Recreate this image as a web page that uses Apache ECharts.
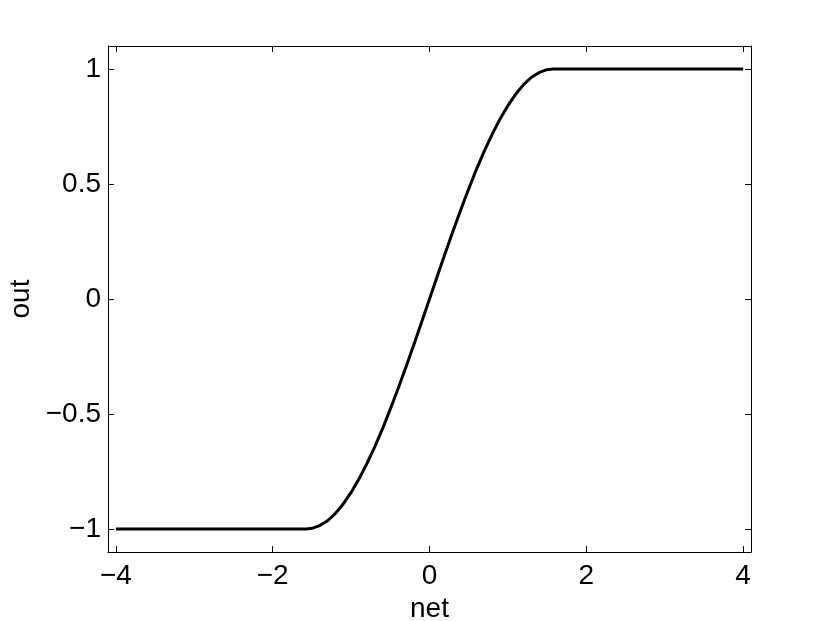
<!DOCTYPE html>
<html>
<head>
<meta charset="utf-8">
<script src="https://cdn.jsdelivr.net/npm/echarts@6/dist/echarts.min.js"></script>
<style>
  html, body { margin: 0; padding: 0; background: #fff; }
  #chart { width: 830px; height: 621px; }
</style>
</head>
<body>
<div id="chart"></div>
<script>
// values
var netValues = [-4.0, -3.0, -2.0, -1.57, -1.5, -1.4, -1.3, -1.2, -1.1, -1.0, -0.9, -0.8, -0.7, -0.6, -0.5, -0.4, -0.3, -0.2, -0.1,
  0.0, 0.1, 0.2, 0.3, 0.4, 0.5, 0.6, 0.7, 0.8, 0.9, 1.0, 1.1, 1.2, 1.3, 1.4, 1.5, 1.57, 2.0, 3.0, 4.0];
var outValues = [-1.0, -1.0, -1.0, -1.0, -0.997, -0.985, -0.964, -0.932, -0.891, -0.841, -0.783, -0.717, -0.644, -0.565, -0.479, -0.389, -0.296, -0.199, -0.1,
  0.0, 0.1, 0.199, 0.296, 0.389, 0.479, 0.565, 0.644, 0.717, 0.783, 0.841, 0.891, 0.932, 0.964, 0.985, 0.997, 1.0, 1.0, 1.0, 1.0];
var xTicks = [-4, -2, 0, 2, 4];
var yTicks = [-1, -0.5, 0, 0.5, 1];

var fontName = "Liberation Sans";

function minus(v) {
  return String(v).replace('-', '\u2212');
}

function axisBase(pos, min, max, ticks, showLabel) {
  return {
    type: 'value',
    position: pos,
    min: min,
    max: max,
    splitLine: { show: false },
    axisLine: { show: true, onZero: false, lineStyle: { color: '#000', width: 1 } },
    axisTick: { show: true, inside: true, length: 6, customValues: ticks, lineStyle: { color: '#000', width: 1 } },
    axisLabel: {
      show: showLabel,
      customValues: ticks,
      formatter: minus,
      color: '#000',
      fontSize: 28,
      fontFamily: fontName
    }
  };
}

var chart = echarts.init(document.getElementById('chart'));

var pts = netValues.map(function (x, i) { return [x, outValues[i]]; });

var xBottom = axisBase('bottom', -4.1, 4.1, xTicks, true);
xBottom.name = 'net';
xBottom.nameLocation = 'middle';
xBottom.nameGap = 41;
xBottom.nameTextStyle = { color: '#000', fontSize: 28, fontFamily: fontName };
xBottom.axisLabel.margin = 10;

var yLeft = axisBase('left', -1.1, 1.1, yTicks, true);
yLeft.name = 'out';
yLeft.nameLocation = 'middle';
yLeft.nameGap = 70;
yLeft.nameTextStyle = { color: '#000', fontSize: 28, fontFamily: fontName };
yLeft.axisLabel.margin = 7;

chart.setOption({
  animation: false,
  backgroundColor: '#fff',
  grid: { left: 108, right: 79, top: 46, bottom: 69, containLabel: false, outerBoundsMode: 'none' },
  xAxis: [xBottom, axisBase('top', -4.1, 4.1, xTicks, false)],
  yAxis: [yLeft, axisBase('right', -1.1, 1.1, yTicks, false)],
  series: [{
    type: 'line',
    data: pts,
    showSymbol: false,
    smooth: false,
    lineStyle: { color: '#000', width: 3 },
    xAxisIndex: 0,
    yAxisIndex: 0
  }]
});
</script>
</body>
</html>
